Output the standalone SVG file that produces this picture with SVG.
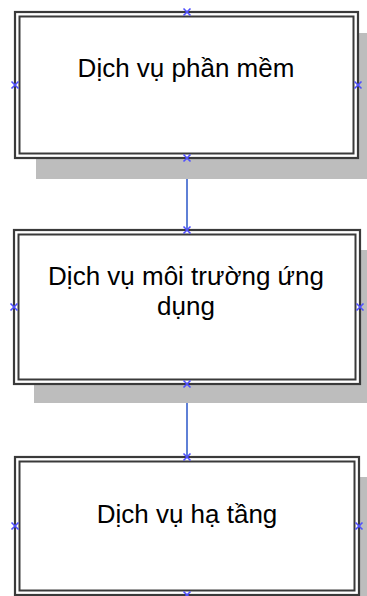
<svg xmlns="http://www.w3.org/2000/svg" width="367" height="596" viewBox="0 0 367 596">
<defs>
<style>
.shadow{fill:#bdbdbd}
.outer{fill:#fff;stroke:#3a3a3a;stroke-width:2.2}
.inner{fill:none;stroke:#3a3a3a;stroke-width:2}
.lbl{font-family:"Liberation Sans",Arial,sans-serif;font-size:26px;fill:#000;text-anchor:middle}
.conn{stroke:#2a56c8;stroke-width:1.5;fill:none}
.mk{stroke:#4f4fff;stroke-width:1.6;fill:none}
</style>
<g id="x"><path class="mk" d="M-3.5,-3.5L3.5,3.5M-3.5,3.5L3.5,-3.5"/></g>
</defs>
<g id="connectors">
<line class="conn" x1="187" y1="158" x2="187" y2="230"/>
<line class="conn" x1="187" y1="384" x2="187" y2="457"/>
</g>
<g id="node1">
<rect class="shadow" x="36" y="33" width="343" height="146"/>
<rect class="outer" x="15" y="12" width="343" height="146"/>
<rect class="inner" x="19.5" y="16.5" width="334" height="137"/>
<text class="lbl" x="186" y="77">Dịch vụ phần mềm</text>
<use href="#x" x="187" y="12"/><use href="#x" x="15" y="85"/><use href="#x" x="358" y="85"/><use href="#x" x="187" y="158"/>
</g>
<g id="node2">
<rect class="shadow" x="34" y="250" width="346" height="153"/>
<rect class="outer" x="14" y="230" width="346" height="154"/>
<rect class="inner" x="18.5" y="234.5" width="337" height="145"/>
<text class="lbl" x="186" y="285">Dịch vụ môi trường ứng</text>
<text class="lbl" x="186" y="315">dụng</text>
<use href="#x" x="187" y="230"/><use href="#x" x="14" y="307"/><use href="#x" x="360" y="307"/><use href="#x" x="187" y="384"/>
</g>
<g id="node3">
<rect class="shadow" x="35" y="477" width="344" height="140"/>
<rect class="outer" x="15" y="457" width="344" height="138"/>
<rect class="inner" x="19.5" y="461.5" width="335" height="129"/>
<text class="lbl" x="187" y="523">Dịch vụ hạ tầng</text>
<use href="#x" x="187" y="457"/><use href="#x" x="15" y="526"/><use href="#x" x="359" y="526"/><use href="#x" x="187" y="595"/>
</g>
</svg>
